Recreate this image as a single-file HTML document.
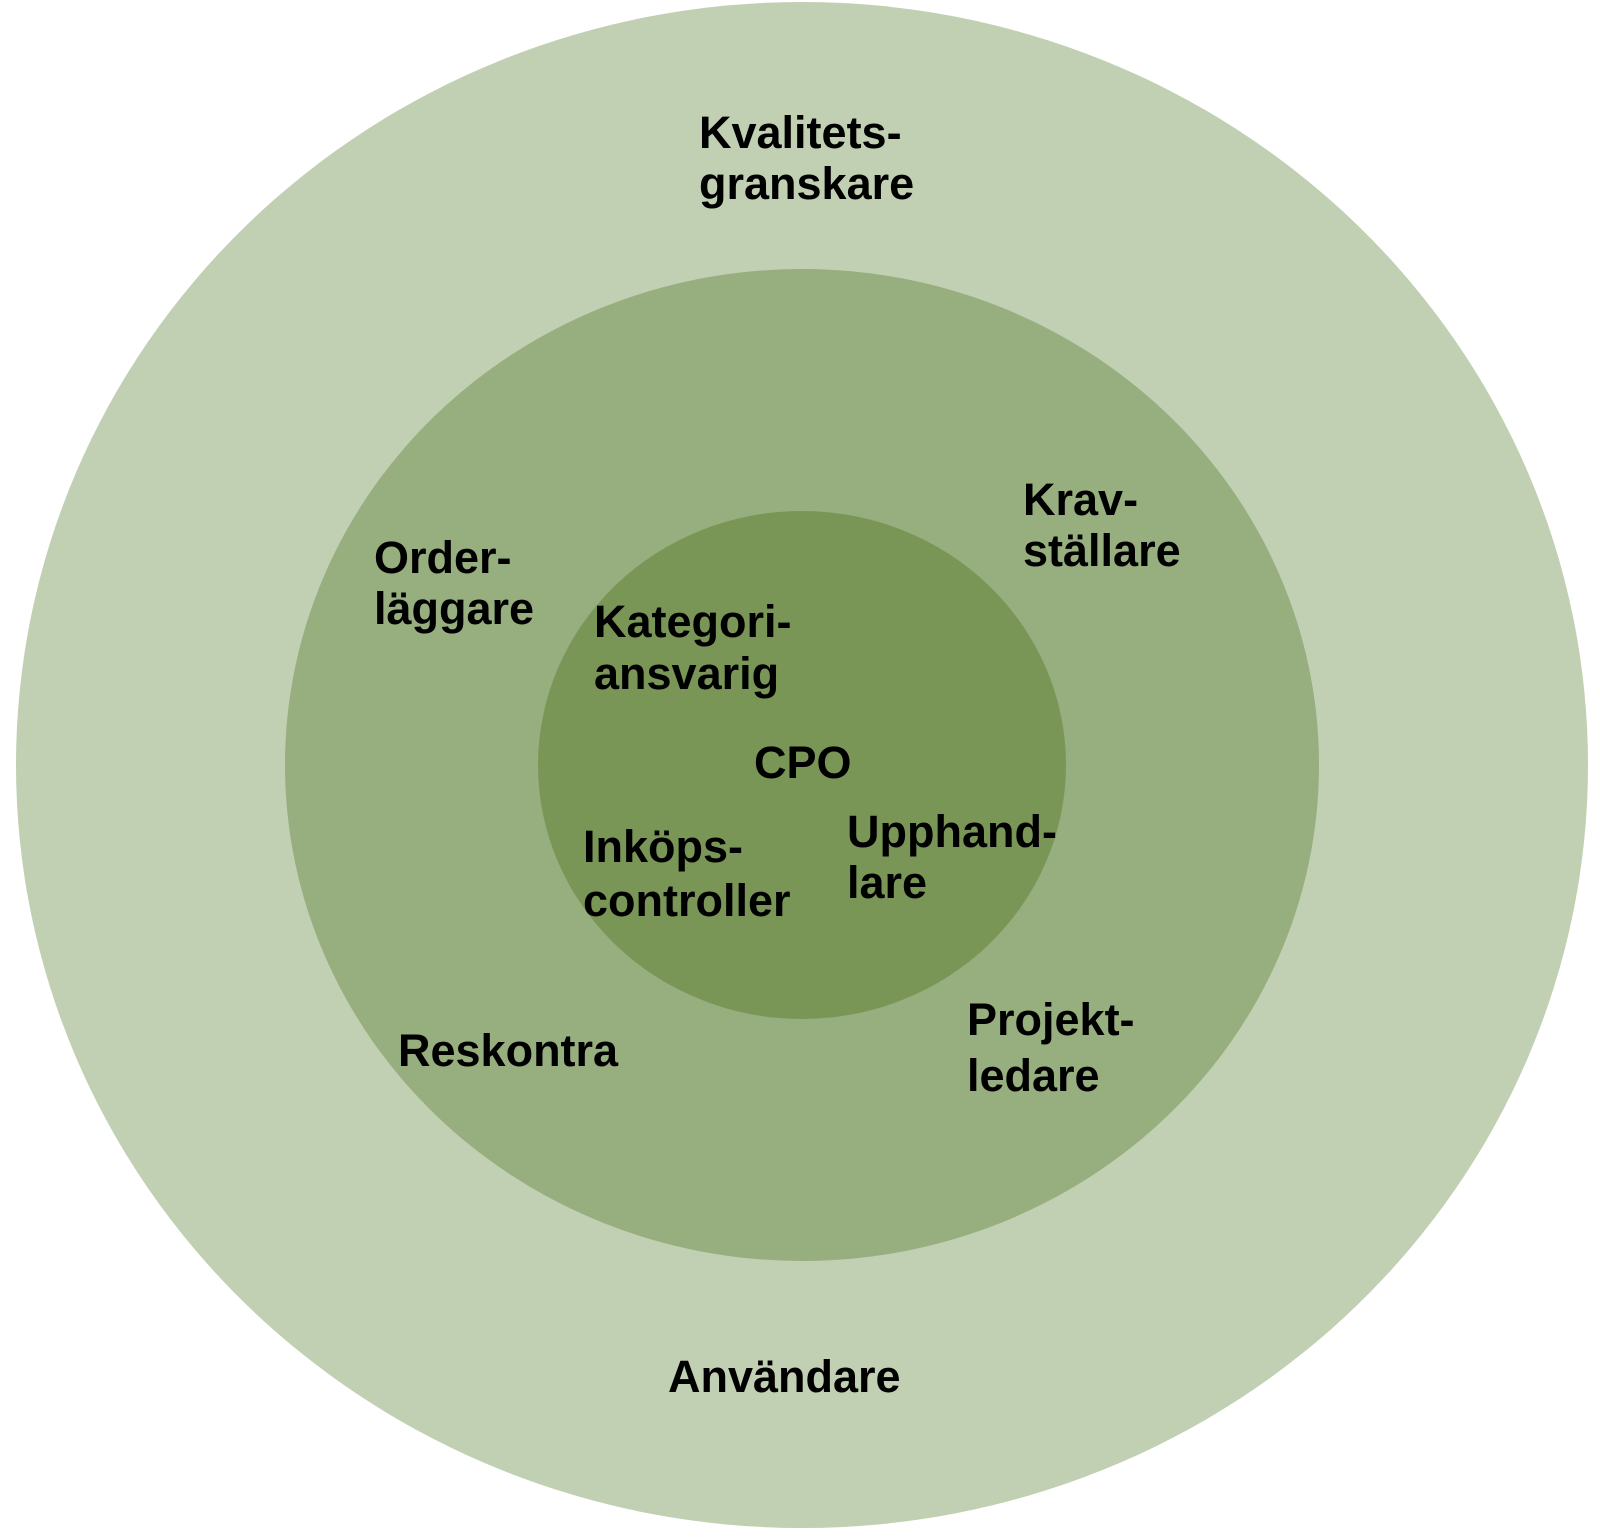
<!DOCTYPE html>
<html><head><meta charset="utf-8"><style>
html,body{margin:0;padding:0;background:#fff;width:1600px;height:1540px;overflow:hidden}
text{font-family:"Liberation Sans",Arial,sans-serif;font-weight:bold;font-size:45px;fill:#000}
</style></head><body>
<svg width="1600" height="1540" viewBox="0 0 1600 1540" xmlns="http://www.w3.org/2000/svg">
<ellipse cx="802" cy="765" rx="786" ry="763" fill="#c1cfb2"/>
<ellipse cx="802" cy="765" rx="517" ry="496" fill="#97ae7e"/>
<ellipse cx="802" cy="765" rx="264" ry="254" fill="#7a9657"/>
<text x="699" y="148">Kvalitets-</text>
<text x="699" y="199">granskare</text>
<text x="374" y="573">Order-</text>
<text x="374" y="624">läggare</text>
<text x="1023" y="515">Krav-</text>
<text x="1023" y="566">ställare</text>
<text x="594" y="637">Kategori-</text>
<text x="594" y="689">ansvarig</text>
<text x="754" y="778">CPO</text>
<text x="583" y="862">Inköps-</text>
<text x="583" y="916">controller</text>
<text x="847" y="847">Upphand-</text>
<text x="847" y="898">lare</text>
<text x="398" y="1066">Reskontra</text>
<text x="967" y="1035">Projekt-</text>
<text x="967" y="1091">ledare</text>
<text x="668" y="1392">Användare</text>
</svg>
</body></html>
